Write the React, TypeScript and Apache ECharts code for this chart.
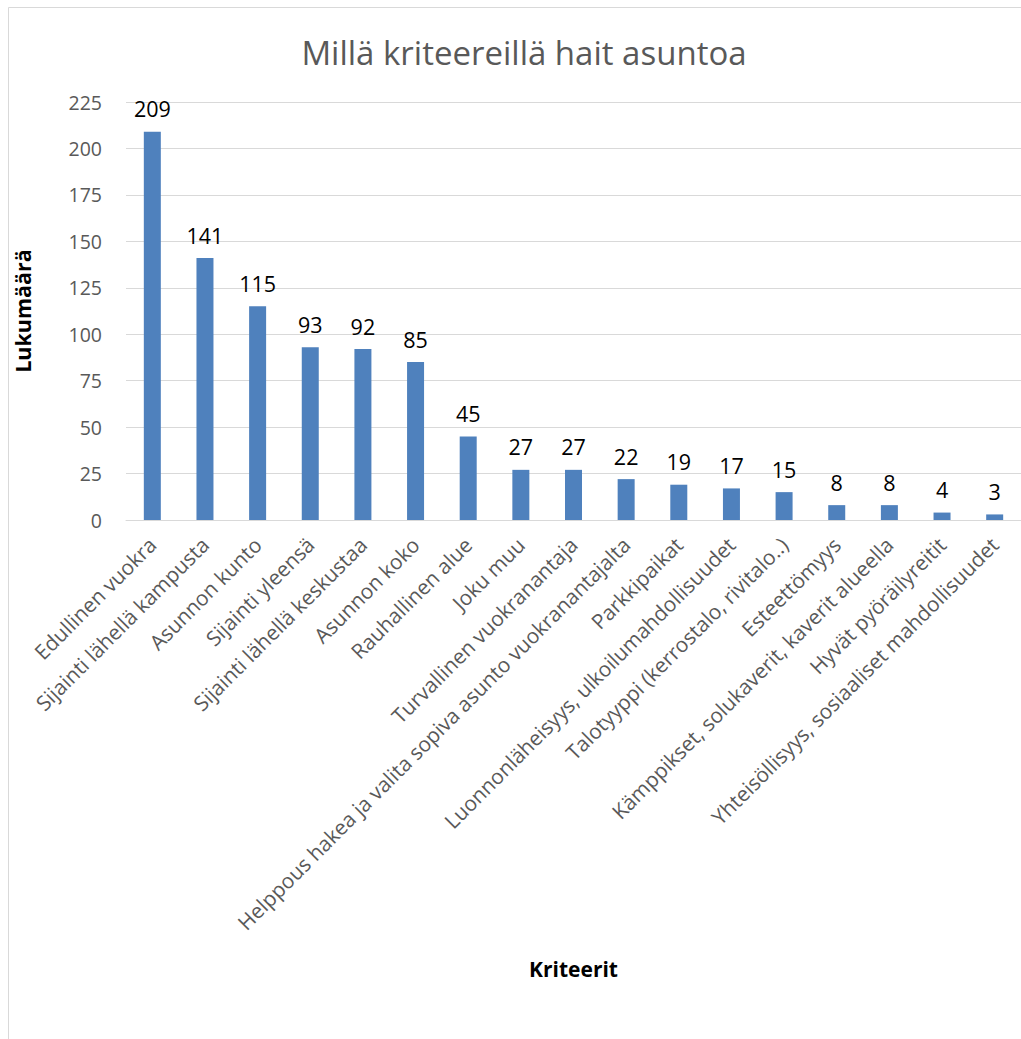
import React, { useEffect, useRef } from "react";
import * as echarts from "echarts";

const categories: string[] = [
  "Edullinen vuokra",
  "Sijainti lähellä kampusta",
  "Asunnon kunto",
  "Sijainti yleensä",
  "Sijainti lähellä keskustaa",
  "Asunnon koko",
  "Rauhallinen alue",
  "Joku muu",
  "Turvallinen vuokranantaja",
  "Helppous hakea ja valita sopiva asunto vuokranantajalta",
  "Parkkipaikat",
  "Luonnonläheisyys, ulkoilumahdollisuudet",
  "Talotyyppi (kerrostalo, rivitalo..)",
  "Esteettömyys",
  "Kämppikset, solukaverit, kaverit alueella",
  "Hyvät pyöräilyreitit",
  "Yhteisöllisyys, sosiaaliset mahdollisuudet",
];

const counts: number[] = [209, 141, 115, 93, 92, 85, 45, 27, 27, 22, 19, 17, 15, 8, 8, 4, 3];

const titleText = "Millä kriteereillä hait asuntoa";
const yAxisTitle = "Lukumäärä";
const xAxisTitle = "Kriteerit";

const FONT = "'Open Sans', 'Noto Sans', sans-serif";

export default function App() {
  const ref = useRef<HTMLDivElement>(null);

  useEffect(() => {
    if (!ref.current) return;
    const chart = echarts.init(ref.current, undefined, { renderer: "svg" });
    chart.setOption({
      animation: false,
      backgroundColor: "#ffffff",
      textStyle: { fontFamily: FONT },
      title: {
        text: titleText,
        left: 519,
        top: 31,
        textAlign: "center",
        textStyle: { fontFamily: FONT, fontSize: 33, fontWeight: "normal", color: "#595959" },
      },
      graphic: [
        {
          type: "rect",
          shape: { x: 8.5, y: 7.5, width: 1030, height: 1060 },
          style: { fill: "none", stroke: "#d9d9d9", lineWidth: 1 },
          silent: true,
        },
      ],
      grid: { left: 126, top: 102, width: 896, height: 418, containLabel: false },
      xAxis: {
        type: "category",
        data: categories,
        name: xAxisTitle,
        nameLocation: "middle",
        nameGap: 438,
        nameTextStyle: { fontFamily: FONT, fontSize: 21, fontWeight: "bold", color: "#000000" },
        axisLine: { show: true, lineStyle: { color: "#d9d9d9", width: 1 } },
        axisTick: { show: false },
        axisLabel: {
          interval: 0,
          rotate: 45,
          margin: 21,
          fontFamily: FONT,
          fontSize: 20.8,
          color: "#595959",
        },
      },
      yAxis: {
        type: "value",
        min: 0,
        max: 225,
        interval: 25,
        name: yAxisTitle,
        nameLocation: "middle",
        nameGap: 93,
        nameRotate: 90,
        nameTextStyle: { fontFamily: FONT, fontSize: 21.5, fontWeight: "bold", color: "#000000" },
        axisLine: { show: false },
        axisTick: { show: false },
        axisLabel: { margin: 24, fontFamily: FONT, fontSize: 19.5, color: "#595959" },
        splitLine: { show: true, lineStyle: { color: "#d9d9d9", width: 1 } },
      },
      series: [
        {
          type: "bar",
          data: counts,
          barWidth: 17,
          itemStyle: { color: "#4f81bd" },
          label: {
            show: true,
            position: "top",
            distance: 12,
            fontFamily: FONT,
            fontSize: 21.5,
            color: "#000000",
          },
        },
      ],
    });
    return () => chart.dispose();
  }, []);

  return (
    <div
      ref={ref}
      style={{ position: "fixed", left: 0, top: 0, width: 1021, height: 1039, background: "#fff" }}
    />
  );
}
